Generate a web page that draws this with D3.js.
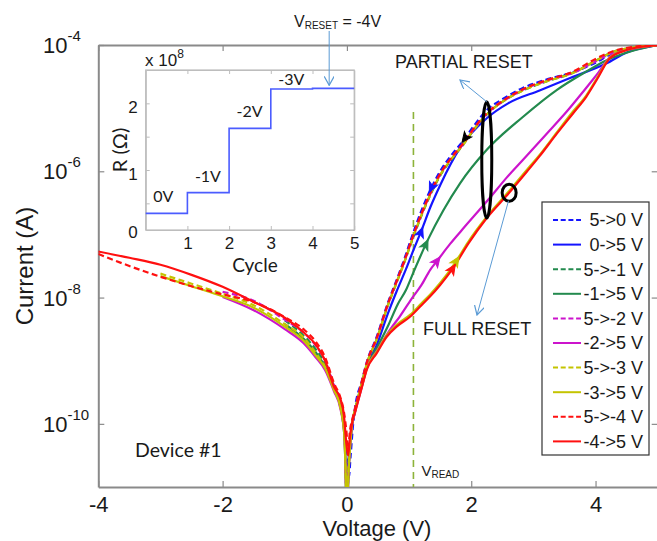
<!DOCTYPE html>
<html><head><meta charset="utf-8">
<script src="https://cdn.jsdelivr.net/npm/d3@7"></script>
<style>
html,body{margin:0;padding:0;background:#fff;}
svg{display:block;}
text{font-family:"Liberation Sans",Arial,sans-serif;fill:#1a1a1a;}
.cal{font-family:Lato,"Open Sans",sans-serif;}
</style></head>
<body>
<script>
// ---------------- data ----------------
// main plot: [voltage (V), log10 current (A)]
const xTicks = [-4, -2, 0, 2, 4];
const yTicks = [1e-4, 1e-6, 1e-8, 1e-10];
const legendLabels = ["5->0 V","0->5 V","5->-1 V","-1->5 V","5->-2 V","-2->5 V","5->-3 V","-3->5 V","5->-4 V","-4->5 V"];

const s50 = [[0,-10.4],[0.03,-10.85],[0.06,-10.5],[0.1,-10.0],[0.13,-9.75],[0.24,-9.32],[0.32,-9.02],[0.48,-8.62],[0.66,-8.08],[0.8,-7.72],[0.92,-7.4],[1.04,-7.05],[1.2,-6.62],[1.34,-6.3],[1.5,-6.0],[1.7,-5.72],[1.87,-5.52],[2.05,-5.27],[2.25,-5.03],[2.5,-4.86],[2.83,-4.68],[3.2,-4.55],[3.64,-4.43],[4.0,-4.28],[4.28,-4.13],[4.6,-4.05],[5,-4.0]];
const s05 = [[0,-10.9],[0.03,-10.5],[0.07,-10.1],[0.13,-9.8],[0.24,-9.38],[0.32,-9.08],[0.48,-8.75],[0.66,-8.25],[0.8,-7.9],[0.95,-7.55],[1.07,-7.25],[1.19,-6.96],[1.35,-6.55],[1.5,-6.22],[1.82,-5.63],[2.25,-5.16],[2.6,-4.92],[3.1,-4.72],[3.6,-4.52],[4.18,-4.29],[4.5,-4.12],[5,-4.0]];
const s5m1 = [[-1,-8.36],[-0.7,-8.6],[-0.5,-8.82],[-0.35,-9.05],[-0.21,-9.4],[-0.1,-9.7],[-0.04,-10.1],[0,-11.3],[0.03,-10.6],[0.08,-10.0],[0.13,-9.78],[0.24,-9.35],[0.32,-9.05],[0.48,-8.66],[0.66,-8.12],[0.8,-7.76],[0.92,-7.45],[1.04,-7.12],[1.2,-6.7],[1.34,-6.38],[1.5,-6.07],[1.7,-5.79],[1.87,-5.58],[2.05,-5.33],[2.25,-5.1],[2.5,-4.9],[2.83,-4.72],[3.2,-4.58],[3.64,-4.44],[4.0,-4.25],[4.28,-4.11],[4.6,-4.04],[5,-4.0]];
const sm15 = [[-1,-8.42],[-0.7,-8.65],[-0.5,-8.87],[-0.35,-9.1],[-0.21,-9.45],[-0.1,-9.75],[-0.04,-10.2],[0,-11.3],[0.03,-10.7],[0.08,-10.05],[0.13,-9.8],[0.24,-9.4],[0.32,-9.1],[0.48,-8.8],[0.66,-8.45],[0.82,-8.1],[0.95,-7.88],[1.07,-7.6],[1.3,-7.09],[1.55,-6.62],[1.82,-6.19],[2.25,-5.66],[2.83,-5.14],[3.38,-4.71],[3.8,-4.45],[4.18,-4.24],[4.6,-4.09],[5,-4.0]];
const s5m2 = [[-2,-7.91],[-1.5,-8.05],[-1,-8.35],[-0.7,-8.55],[-0.5,-8.76],[-0.35,-9.0],[-0.21,-9.38],[-0.1,-9.68],[-0.04,-10.1],[0,-11.3],[0.03,-10.6],[0.08,-10.0],[0.13,-9.77],[0.24,-9.34],[0.32,-9.04],[0.48,-8.65],[0.66,-8.11],[0.8,-7.75],[0.92,-7.44],[1.04,-7.1],[1.2,-6.68],[1.34,-6.36],[1.5,-6.05],[1.7,-5.77],[1.87,-5.57],[2.05,-5.32],[2.25,-5.09],[2.5,-4.9],[2.83,-4.71],[3.2,-4.57],[3.64,-4.44],[4.0,-4.26],[4.28,-4.12],[4.6,-4.04],[5,-4.0]];
const sm25 = [[-2,-7.99],[-1.5,-8.2],[-1,-8.5],[-0.7,-8.72],[-0.5,-8.95],[-0.35,-9.15],[-0.21,-9.48],[-0.1,-9.78],[-0.04,-10.2],[0,-11.3],[0.03,-10.7],[0.08,-10.05],[0.13,-9.82],[0.24,-9.42],[0.32,-9.12],[0.48,-8.85],[0.7,-8.5],[0.85,-8.3],[1.04,-8.02],[1.2,-7.8],[1.34,-7.56],[1.45,-7.42],[1.66,-7.15],[1.85,-6.93],[2.3,-6.42],[2.57,-6.1],[2.83,-5.82],[3.2,-5.42],[3.54,-5.05],[3.8,-4.74],[4.02,-4.47],[4.28,-4.15],[4.6,-4.06],[5,-4.0]];
const s5m3 = [[-3,-7.62],[-2.5,-7.78],[-2,-7.94],[-1.5,-8.12],[-1,-8.42],[-0.7,-8.63],[-0.5,-8.88],[-0.35,-9.1],[-0.21,-9.44],[-0.1,-9.74],[-0.04,-10.15],[0,-11.3],[0.03,-10.6],[0.08,-10.0],[0.13,-9.78],[0.24,-9.35],[0.32,-9.05],[0.48,-8.66],[0.66,-8.12],[0.8,-7.76],[0.92,-7.45],[1.04,-7.11],[1.2,-6.69],[1.34,-6.37],[1.5,-6.06],[1.7,-5.78],[1.87,-5.58],[2.05,-5.33],[2.25,-5.1],[2.5,-4.9],[2.83,-4.72],[3.2,-4.58],[3.64,-4.44],[4.0,-4.25],[4.28,-4.11],[4.6,-4.04],[5,-4.0]];
const sm35 = [[-3,-7.66],[-2.5,-7.82],[-2,-7.98],[-1.5,-8.16],[-1,-8.46],[-0.7,-8.68],[-0.5,-8.92],[-0.35,-9.12],[-0.21,-9.46],[-0.1,-9.76],[-0.04,-10.2],[0,-11.3],[0.03,-10.7],[0.08,-10.02],[0.13,-9.8],[0.24,-9.4],[0.32,-9.12],[0.48,-8.86],[0.64,-8.6],[0.8,-8.43],[1.02,-8.27],[1.2,-8.09],[1.34,-7.95],[1.5,-7.77],[1.74,-7.45],[1.95,-7.12],[2.25,-6.72],[2.61,-6.31],[2.9,-5.97],[3.1,-5.74],[3.38,-5.38],[3.64,-5.05],[3.85,-4.8],[4.02,-4.53],[4.23,-4.2],[4.5,-4.08],[4.72,-4.03],[5,-4.0]];
const s5m4 = [[-4,-7.31],[-3.5,-7.5],[-3,-7.67],[-2.5,-7.82],[-2,-7.95],[-1.5,-8.07],[-1,-8.31],[-0.7,-8.5],[-0.5,-8.7],[-0.35,-8.95],[-0.21,-9.35],[-0.1,-9.6],[-0.05,-9.8],[-0.01,-10.1],[0.02,-10.4],[0.05,-10.1],[0.09,-9.92],[0.13,-9.76],[0.24,-9.33],[0.32,-9.03],[0.48,-8.64],[0.66,-8.1],[0.8,-7.74],[0.92,-7.43],[1.04,-7.09],[1.2,-6.67],[1.34,-6.35],[1.5,-6.04],[1.7,-5.76],[1.87,-5.56],[2.05,-5.31],[2.25,-5.08],[2.5,-4.89],[2.83,-4.7],[3.2,-4.56],[3.64,-4.42],[4.0,-4.22],[4.28,-4.1],[4.6,-4.03],[5,-4.0]];
const sm45 = [[-4,-7.27],[-3.5,-7.37],[-3,-7.48],[-2.5,-7.64],[-2,-7.83],[-1.5,-8.07],[-1,-8.32],[-0.7,-8.55],[-0.5,-8.75],[-0.35,-9.0],[-0.21,-9.41],[-0.1,-9.62],[-0.05,-9.85],[-0.01,-10.3],[0.02,-10.5],[0.05,-10.2],[0.09,-9.95],[0.13,-9.82],[0.24,-9.42],[0.32,-9.14],[0.48,-8.88],[0.64,-8.62],[0.8,-8.46],[1.02,-8.3],[1.2,-8.12],[1.34,-7.98],[1.5,-7.8],[1.71,-7.53],[1.95,-7.15],[2.25,-6.74],[2.61,-6.34],[2.9,-6.0],[3.1,-5.76],[3.38,-5.4],[3.64,-5.08],[3.85,-4.82],[4.02,-4.55],[4.23,-4.21],[4.5,-4.08],[4.72,-4.03],[5,-4.0]];

const seriesData = [s50, s05, s5m1, sm15, s5m2, sm25, s5m3, sm35, s5m4, sm45];
const seriesColors = ["#1414ff","#1414ff","#238a4e","#238a4e","#cc14cc","#cc14cc","#c4c400","#c4c400","#ff1010","#ff1010"];
const seriesDashed = [true,false,true,false,true,false,true,false,true,false];

// direction arrows on curves: [series index, voltage, direction(+1 up-sweep,-1 down-sweep), colour]
const curveArrows = [[0,1.36,-1,"#1414ff"],[0,1.9,-1,"#000"],[1,1.19,1,"#1414ff"],[3,1.27,1,"#238a4e"],[5,1.45,1,"#cc14cc"],[7,1.76,1,"#c4c400"],[9,1.7,1,"#ff1010"]];

const vRead = 1.07;

// inset: resistance per cycle (x 10^8 ohm)
const cycles = [0,1,2,3,4,5];
const resistance = [0.35,0.66,1.625,2.215,2.225,2.225];
const stepLabels = ["0V","-1V","-2V","-3V"];

// ---------------- drawing ----------------
const W = 657, H = 541;
const svg = d3.select("body").append("svg").attr("width", W).attr("height", H);

const x = d3.scaleLinear().domain([-4, 5]).range([98.3, 657.7]);
const y = d3.scaleLog().domain([1e-11, 1e-4]).range([487, 45]);
const axisCol = "#8a8a8a";

svg.append("clipPath").attr("id","clip").append("rect")
  .attr("x", x(-4)).attr("y", y(1e-4)).attr("width", x(5)-x(-4)).attr("height", y(1e-11)-y(1e-4));

// axes
const gx = svg.append("g").attr("transform", `translate(0,${y(1e-11)})`)
  .call(d3.axisBottom(x).tickValues(xTicks).tickSizeInner(-6).tickSizeOuter(0).tickPadding(9).tickFormat(d => String(d)));
const gxt = svg.append("g").attr("transform", `translate(0,${y(1e-4)})`)
  .call(d3.axisTop(x).tickValues(xTicks).tickSizeInner(-6).tickSizeOuter(0).tickFormat(""));
const gy = svg.append("g").attr("transform", `translate(${x(-4)},0)`)
  .call(d3.axisLeft(y).tickValues(yTicks).tickSizeInner(-6).tickSizeOuter(0).tickFormat(""));
const gyr = svg.append("g").attr("transform", `translate(${x(5)},0)`)
  .call(d3.axisRight(y).tickValues(yTicks).tickSizeInner(-6).tickSizeOuter(0).tickFormat(""));
[gx,gxt,gy,gyr].forEach(g => {
  g.select(".domain").attr("stroke", axisCol).attr("stroke-width", 2);
  g.selectAll(".tick line").attr("stroke", axisCol).attr("stroke-width", 1.2);
});
gx.selectAll("text").attr("font-size", 22).attr("fill","#1a1a1a").attr("font-family","Liberation Sans, Arial, sans-serif");

// y tick labels 10^n
yTicks.forEach(t => {
  const e = Math.round(Math.log10(t));
  const tx = svg.append("text").attr("x", 43).attr("y", y(t) + 8).attr("font-size", 22);
  tx.append("tspan").text("10");
  tx.append("tspan").attr("dy", -12).attr("font-size", 15).text(String(e));
});

svg.append("text").attr("transform", `translate(33,${(y(1e-4)+y(1e-11))/2}) rotate(-90)`)
  .attr("text-anchor","middle").attr("font-size", 24).text("Current (A)");
svg.append("text").attr("x", 377).attr("y", 536).attr("text-anchor","middle").attr("font-size", 22).text("Voltage (V)");

// V_READ line
svg.append("line").attr("x1", x(vRead)).attr("x2", x(vRead)).attr("y1", y(8.7e-6)).attr("y2", y(1e-11))
  .attr("stroke", "#8db33a").attr("stroke-width", 1.6).attr("stroke-dasharray", "7,5");
const vr = svg.append("text").attr("x", x(vRead) + 8).attr("y", 476).attr("font-size", 15);
vr.append("tspan").text("V");
vr.append("tspan").attr("font-size", 10).attr("dy", 2).text("READ");

svg.append("text").attr("class","cal").attr("x", 135).attr("y", 457).attr("font-size", 19.5).text("Device #1");

// curves
const line = d3.line().x(d => x(d[0])).y(d => y(Math.pow(10, d[1]))).curve(d3.curveMonotoneX);
const gc = svg.append("g").attr("clip-path","url(#clip)");
seriesData.forEach((s, i) => {
  gc.append("path").attr("d", line(s)).attr("fill","none")
    .attr("stroke", seriesColors[i]).attr("stroke-width", 2.2)
    .attr("stroke-dasharray", seriesDashed[i] ? "6,3.5" : null)
    .attr("stroke-linejoin","round");
});

// arrowheads along curves
function valAt(s, v) {
  for (let k = 1; k < s.length; k++) {
    if (v <= s[k][0]) {
      const a = s[k-1], b = s[k], f = (v - a[0]) / (b[0] - a[0]);
      return a[1] + f * (b[1] - a[1]);
    }
  }
  return s[s.length-1][1];
}
curveArrows.forEach(([si, v, dir, col]) => {
  const s = seriesData[si];
  const px = x(v), py = y(Math.pow(10, valAt(s, v)));
  const qx = x(v + 0.05*dir), qy = y(Math.pow(10, valAt(s, v + 0.05*dir)));
  const ang = Math.atan2(qy - py, qx - px) * 180 / Math.PI;
  svg.append("path").attr("d", "M5,0 L-5,-4.5 L-2.5,0 L-5,4.5 Z")
    .attr("transform", `translate(${px},${py}) rotate(${ang})`)
    .attr("fill", col).attr("stroke", col).attr("stroke-width", 1);
});

// annotations
const annCol = "#5b9bd5";
svg.append("defs").append("marker").attr("id","openArrow").attr("viewBox","0 0 10 10")
  .attr("refX", 9).attr("refY", 5).attr("markerWidth", 10).attr("markerHeight", 10)
  .attr("markerUnits","userSpaceOnUse").attr("orient","auto")
  .append("path").attr("d","M0,0 L9,5 L0,10").attr("fill","none").attr("stroke", annCol).attr("stroke-width", 1.2);

// partial reset ellipse at V = 2.25
const eTop = y(Math.pow(10, -4.9)), eBot = y(Math.pow(10, -6.74));
svg.append("ellipse").attr("cx", x(2.25)).attr("cy", (eTop+eBot)/2).attr("rx", 5).attr("ry", (eBot-eTop)/2)
  .attr("fill","none").attr("stroke","#000").attr("stroke-width", 3);
svg.append("ellipse").attr("cx", x(2.61)).attr("cy", y(Math.pow(10,-6.34))).attr("rx", 7).attr("ry", 8.5)
  .attr("fill","none").attr("stroke","#000").attr("stroke-width", 3);
svg.append("line").attr("x1", x(2.25)).attr("y1", eTop).attr("x2", 460).attr("y2", 80)
  .attr("stroke", annCol).attr("stroke-width", 1).attr("marker-end","url(#openArrow)");
svg.append("line").attr("x1", x(2.6)).attr("y1", y(Math.pow(10,-6.34)) + 8).attr("x2", 477).attr("y2", 315)
  .attr("stroke", annCol).attr("stroke-width", 1).attr("marker-end","url(#openArrow)");
svg.append("text").attr("x", 395).attr("y", 68).attr("font-size", 18).text("PARTIAL RESET");
svg.append("text").attr("x", 423).attr("y", 335).attr("font-size", 18).text("FULL RESET");

// legend
const lg = svg.append("g");
lg.append("rect").attr("x", 542).attr("y", 202).attr("width", 107).attr("height", 253)
  .attr("fill","#fff").attr("stroke","#333").attr("stroke-width", 1.2);
legendLabels.forEach((lab, i) => {
  const yy = 220 + i * 24.6;
  lg.append("line").attr("x1", 553).attr("x2", 581).attr("y1", yy).attr("y2", yy)
    .attr("stroke", seriesColors[i]).attr("stroke-width", 2)
    .attr("stroke-dasharray", seriesDashed[i] ? "5,2.7" : null);
  lg.append("text").attr("x", 643).attr("y", yy).attr("dy","0.36em").attr("text-anchor","end")
    .attr("font-size", 18).text(lab);
});

// inset
const xs = d3.scaleLinear().domain([0, 5]).range([145.7, 354.2]);
const ys = d3.scaleLinear().domain([0.1, 2.5]).range([230, 70]);
const insetCol = "#bdbdbd";
svg.append("rect").attr("x", xs(0)).attr("y", ys(2.5)).attr("width", xs(5)-xs(0)).attr("height", ys(0.1)-ys(2.5))
  .attr("fill","#fff").attr("stroke", insetCol).attr("stroke-width", 1.2);
const ib = svg.append("g").attr("transform", `translate(0,${ys(0.1)})`)
  .call(d3.axisBottom(xs).tickValues([1,2,3,4,5]).tickSizeInner(-4).tickSizeOuter(0).tickPadding(7).tickFormat(d => String(d)));
const it = svg.append("g").attr("transform", `translate(0,${ys(2.5)})`)
  .call(d3.axisTop(xs).tickValues([1,2,3,4]).tickSizeInner(-4).tickSizeOuter(0).tickFormat(""));
const il = svg.append("g").attr("transform", `translate(${xs(0)},0)`)
  .call(d3.axisLeft(ys).tickValues([0.5,1,1.5,2]).tickSizeInner(-4).tickSizeOuter(0).tickPadding(8).tickFormat(d => Number.isInteger(d) ? String(d) : ""));
const ir = svg.append("g").attr("transform", `translate(${xs(5)},0)`)
  .call(d3.axisRight(ys).tickValues([0.5,1,1.5,2]).tickSizeInner(-4).tickSizeOuter(0).tickFormat(""));
[ib,it,il,ir].forEach(g => {
  g.select(".domain").attr("stroke", insetCol).attr("stroke-width", 1.2);
  g.selectAll(".tick line").attr("stroke", insetCol);
});
[ib, il].forEach(g => g.selectAll("text").attr("font-size", 17).attr("fill","#1a1a1a").attr("font-family","Liberation Sans, Arial, sans-serif"));
il.selectAll("text").attr("dy", "0.55em");
svg.append("text").attr("x", xs(0) - 8).attr("y", ys(0.1) + 8).attr("text-anchor","end").attr("font-size", 17).text("0");

const stepLine = d3.line().x(d => xs(d[0])).y(d => ys(d[1])).curve(d3.curveStepAfter);
svg.append("path").attr("d", stepLine(cycles.map((c, i) => [c, resistance[i]])))
  .attr("fill","none").attr("stroke","#4b5cff").attr("stroke-width", 1.6);
stepLabels.forEach((lab, i) => {
  svg.append("text").attr("class","cal").attr("x", xs(i + 0.18)).attr("y", Math.max(ys(resistance[i]) - 11, 85))
    .attr("font-size", 16).text(lab);
});
const xl = svg.append("text").attr("x", 145).attr("y", 66).attr("font-size", 17);
xl.append("tspan").text("x 10");
xl.append("tspan").attr("dy", -8).attr("font-size", 12).text("8");
svg.append("text").attr("class","cal").attr("transform", `translate(127,${(ys(0.1)+ys(2.5))/2}) rotate(-90)`)
  .attr("text-anchor","middle").attr("font-size", 20).text("R (Ω)");
svg.append("text").attr("class","cal").attr("x", (xs(0)+xs(5))/2 + 5).attr("y", 272).attr("text-anchor","middle")
  .attr("font-size", 19).text("Cycle");

// V_RESET arrow
svg.append("line").attr("x1", xs(4.4)).attr("x2", xs(4.4)).attr("y1", 31).attr("y2", ys(2.225) - 3)
  .attr("stroke", annCol).attr("stroke-width", 1).attr("marker-end","url(#openArrow)");
const vt = svg.append("text").attr("x", 294).attr("y", 27).attr("font-size", 16);
vt.append("tspan").text("V");
vt.append("tspan").attr("font-size", 10).attr("dy", 2).text("RESET");
vt.append("tspan").attr("dy", -2).text(" = -4V");
</script>
</body></html>
